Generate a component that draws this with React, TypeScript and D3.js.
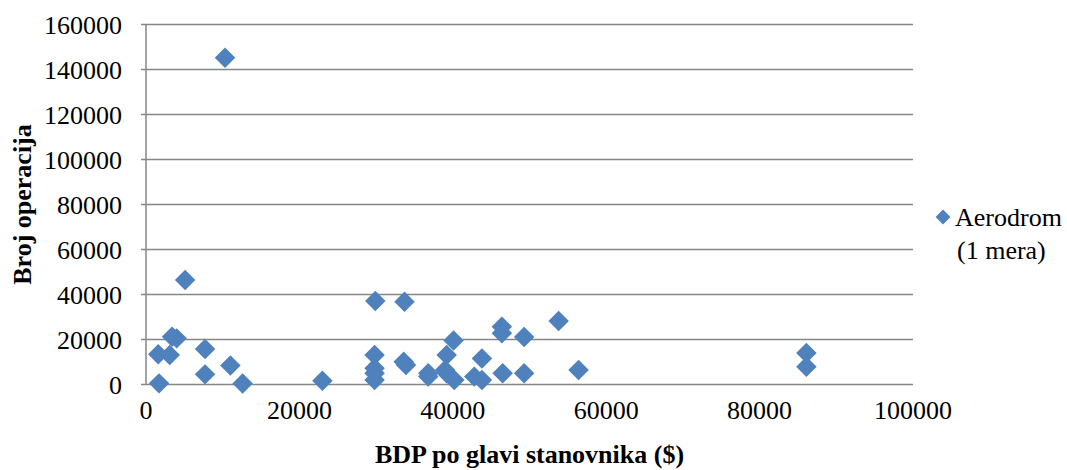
import React from "react";
import * as d3 from "d3";

const gdp: number[] = [
  10300, 5100, 29900, 33700, 53800, 46400, 46400, 49300, 40100, 3400,
  4000, 7700, 1600, 3100, 29800, 39200, 43800, 33600, 33900, 86100,
  86100, 11000, 7700, 56400, 29800, 29800, 29800, 1700, 12600, 23000,
  36800, 36800, 39000, 39200, 40200, 42800, 43800, 46500, 49300,
];
const operations: number[] = [
  145200, 46400, 37100, 36800, 28200, 25700, 22800, 21100, 19600, 21200,
  20500, 15800, 13400, 13100, 13100, 13100, 11600, 10100, 8700, 14000,
  7900, 8400, 4500, 6400, 7200, 5000, 2000, 500, 400, 1700,
  5000, 3500, 6400, 5000, 2000, 3500, 2000, 5000, 5000,
];
const xTicks: number[] = [0, 20000, 40000, 60000, 80000, 100000];
const yTicks: number[] = [0, 20000, 40000, 60000, 80000, 100000, 120000, 140000, 160000];
const seriesName = ["Aerodrom", "(1 mera)"];
const xTitle = "BDP po glavi stanovnika ($)";
const yTitle = "Broj operacija";

export default function App() {
  const W = 1067, H = 470;
  const left = 146, right = 913, top = 24.5, bottom = 384.5;
  const x = d3.scaleLinear().domain([0, 100000]).range([left, right]);
  const y = d3.scaleLinear().domain([0, 160000]).range([bottom, top]);
  const diamond = d3.symbol(d3.symbolSquare, 210)() as string;
  const color = "#4F81BD";
  const grid = "#868686";
  const font = "'Liberation Serif', 'Times New Roman', serif";

  return (
    <svg width={W} height={H} style={{ position: "absolute", left: 0, top: 0, background: "#fff" }} fontFamily={font}>
      {yTicks.map((t) => (
        <g key={t}>
          <line x1={left - 5} x2={right} y1={y(t)} y2={y(t)} stroke={grid} strokeWidth={1.5} />
          <text x={122} y={y(t) + 9} fontSize={26} textAnchor="end" fill="#000">{t}</text>
        </g>
      ))}
      <line x1={left} x2={left} y1={top} y2={bottom} stroke={grid} strokeWidth={1.5} />
      {xTicks.map((t) => (
        <text key={t} x={x(t)} y={419} fontSize={26} textAnchor="middle" fill="#000">{t}</text>
      ))}
      {gdp.map((g, i) => (
        <path key={i} d={diamond} transform={`translate(${x(g)},${y(operations[i])}) rotate(45)`} fill={color} />
      ))}
      <text x={(left + right) / 2} y={463} fontSize={26} fontWeight="bold" textAnchor="middle">{xTitle}</text>
      <text transform={`translate(31,${(top + bottom) / 2}) rotate(-90)`} fontSize={26} fontWeight="bold" textAnchor="middle">{yTitle}</text>
      <path d={d3.symbol(d3.symbolSquare, 110)() as string} transform="translate(943,217) rotate(45)" fill={color} />
      <text x={955} y={226} fontSize={26}>{seriesName[0]}</text>
      <text x={957} y={259} fontSize={26}>{seriesName[1]}</text>
    </svg>
  );
}
